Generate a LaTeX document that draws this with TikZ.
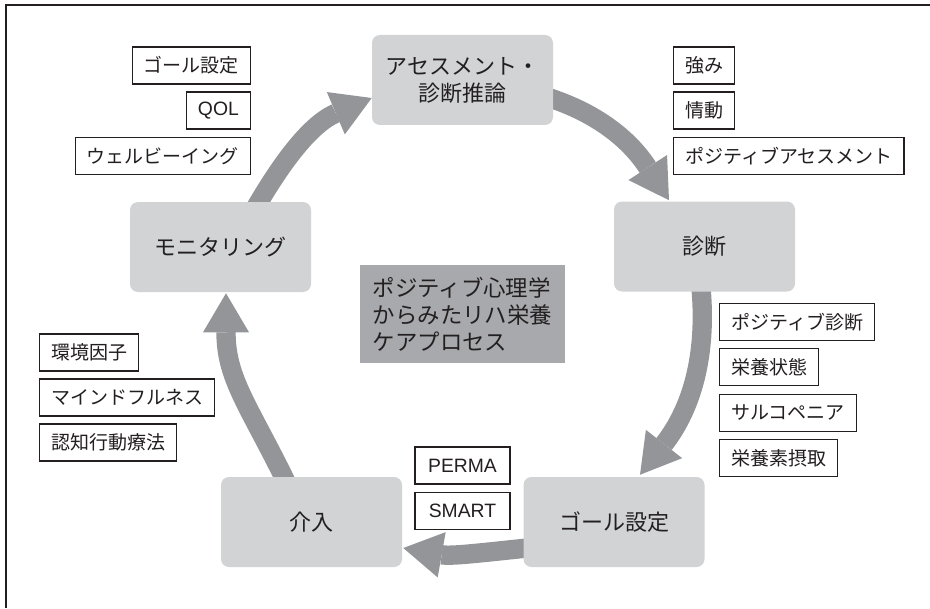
\documentclass[tikz,border=0pt]{standalone}
\usepackage{fontspec}
\setmainfont{Noto Sans CJK JP}
\newfontfamily\latinfont{Liberation Sans}
\usetikzlibrary{arrows.meta,calc}
\pgfdeclarelayer{background}
\pgfsetlayers{background,main}
\definecolor{boxgray}{HTML}{D1D3D4}
\definecolor{midgray}{HTML}{A7A9AC}
\definecolor{arrowgray}{HTML}{939598}
\definecolor{ink}{HTML}{231F20}
\begin{document}
\begin{tikzpicture}[x=0.75pt,y=0.75pt,
  mainbox/.style={fill=boxgray, rounded corners=6pt, minimum width=135.75pt, minimum height=67.5pt, inner sep=0pt, align=center, text=ink, font=\fontsize{16.5pt}{20.25pt}\selectfont},
  centerbox/.style={fill=midgray, minimum width=153.75pt, minimum height=73.5pt, inner sep=0pt, align=left, text=ink, font=\fontsize{16.8pt}{20.25pt}\selectfont},
  tag/.style={draw=ink, line width=1.1pt, fill=white, minimum height=28pt, inner xsep=8.6pt, inner ysep=0pt, text=ink, font=\fontsize{14.25pt}{17pt}\selectfont},
  lattag/.style={tag, font=\latinfont\fontsize{14.5pt}{17pt}\selectfont},
  cyc/.style={arrowgray, line width=14.5pt, -{Triangle[width=34.5pt,length=29.25pt,line width=0pt]}}]
\useasboundingbox (0,0) rectangle (930,608);
\draw[ink, line width=1.5pt] (6,0) -- (6,603) -- (930,603);
% main cycle boxes
\node[mainbox] (assess) at (462.5,528) {アセスメント・\\診断推論};
\node[mainbox] (diag) at (704.5,361.5) {診断};
\node[mainbox] (goal) at (614,86) {ゴール設定};
\node[mainbox] (interv) at (311.5,86) {介入};
\node[mainbox] (monitor) at (220.5,361) {モニタリング};
\node[centerbox] (center) at (462.5,294) {ポジティブ心理学\\からみたリハ栄養\\ケアプロセス};
% tags
\node[tag, anchor=east] (t1) at (251,542.5) {ゴール設定};
\node[lattag, anchor=east] (t2) at (251,497.5) {QOL};
\node[tag, anchor=east] (t3) at (251,452) {ウェルビーイング};
\node[tag, anchor=west] (t4) at (673,542.5) {強み};
\node[tag, anchor=west] (t5) at (673,497.5) {情動};
\node[tag, anchor=west] (t6) at (673,452) {ポジティブアセスメント};
\node[tag, anchor=west] (t7) at (719,286) {ポジティブ診断};
\node[tag, anchor=west] (t8) at (719,241) {栄養状態};
\node[tag, anchor=west] (t9) at (719,195) {サルコペニア};
\node[tag, anchor=west] (t10) at (719,150) {栄養素摂取};
\node[tag, anchor=west] (t11) at (39,255.5) {環境因子};
\node[tag, anchor=west] (t12) at (39,210.5) {マインドフルネス};
\node[tag, anchor=west] (t13) at (39,165.5) {認知行動療法};
\node[lattag, minimum width=71.25pt] (t14) at (462.5,142.5) {PERMA};
\node[lattag, minimum width=71.25pt] (t15) at (462.5,97) {SMART};
% cycle arrows
\begin{pgfonlayer}{background}
\draw[cyc] ($(assess.east)+(-5,-17.5)$) to[out=-18,in=123] ($(diag.north)+(-35.5,1)$);
\draw[cyc] ($(diag.south)+(-3.5,4)$) to[out=-85,in=52] ($(goal.north)+(26,2)$);
\draw[cyc] ($(goal.west)+(4,-26)$) to[out=186,in=-10] ($(interv.east)+(1,-26)$);
\draw[cyc] ($(interv.north)+(-25,-6)$) to[out=116,in=-90,looseness=1.1] ($(monitor.south)+(5.5,-1)$);
\draw[cyc] ($(monitor.north)+(34.5,-7)$) to[out=60,in=203] ($(assess.west)+(0,-18)$);
\end{pgfonlayer}
\end{tikzpicture}
\end{document}
